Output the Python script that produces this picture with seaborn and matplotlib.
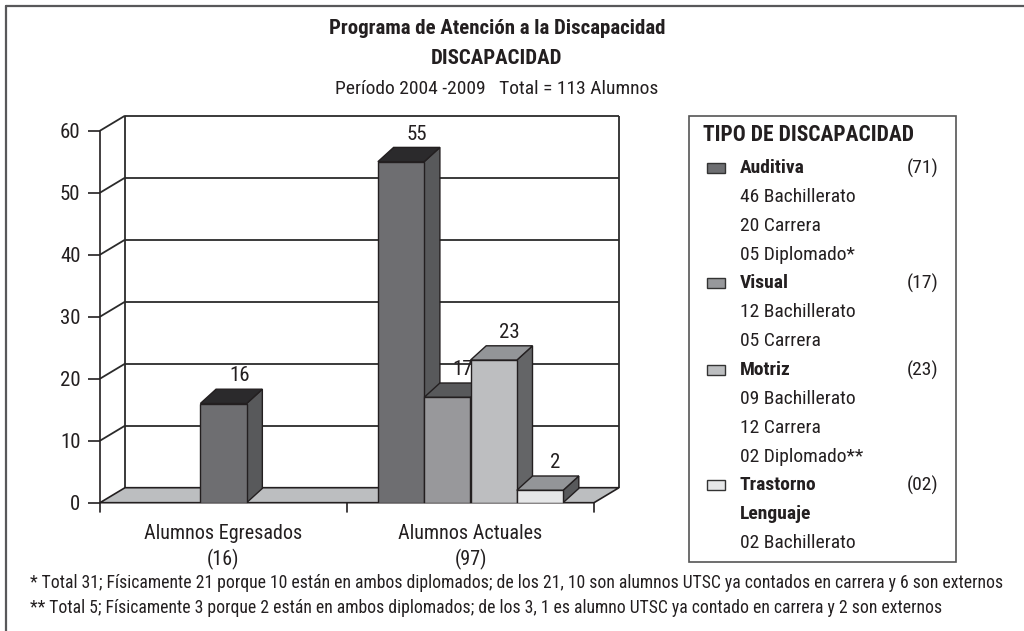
import numpy as np
import pandas as pd
import seaborn as sns
import matplotlib.pyplot as plt
from matplotlib.patches import Polygon, Rectangle
from matplotlib.lines import Line2D
from matplotlib import font_manager

# datos
grupos = ['Alumnos Egresados', 'Alumnos Actuales']
grupo_totales = ['(16)', '(97)']
tipos = ['Auditiva', 'Visual', 'Motriz', 'Trastorno Lenguaje']
egresados = [16, 0, 0, 0]
actuales = [55, 17, 23, 2]
tipo_totales = ['(71)', '(17)', '(23)', '(02)']
tipo_detalle = [['46 Bachillerato', '20 Carrera', '05 Diplomado*'],
                ['12 Bachillerato', '05 Carrera'],
                ['09 Bachillerato', '12 Carrera', '02 Diplomado**'],
                ['02 Bachillerato']]
y_ticks = [0, 10, 20, 30, 40, 50, 60]

titulo = 'Programa de Atención a la Discapacidad'
subtitulo = 'DISCAPACIDAD'
periodo = 'Período 2004 -2009   Total = 113 Alumnos'
notas = ['* Total 31; Físicamente 21 porque 10 están en ambos diplomados; de los 21, 10 son alumnos UTSC ya contados en carrera y 6 son externos',
         '** Total 5; Físicamente 3 porque 2 están en ambos diplomados; de los 3, 1 es alumno UTSC ya contado en carrera y 2 son externos']

# colores (frente, tapa, lado)
frente = ['#6d6e71', '#97989b', '#bcbec0', '#e6e7e8']
tapa = ['#2b2a2c', '#58595b', '#939598', '#939598']
lado = ['#58595b', '#58595b', '#646567', '#58595b']
linea = '#231f20'

sns.set_theme(style='white')
disponibles = {f.name for f in font_manager.fontManager.ttflist}
fuente = next((f for f in ['Liberation Sans Narrow', 'Roboto Condensed', 'Open Sans Condensed']
               if f in disponibles), 'Liberation Sans')
plt.rcParams['font.family'] = [fuente, 'DejaVu Sans']
plt.rcParams['text.color'] = linea

W, H = 1024, 631
fig = plt.figure(figsize=(W / 100, H / 100), dpi=100)
fig.patch.set_facecolor('white')

def fx(x):
    return x / W

def fy(y):
    return 1 - y / H

# escala: 247 px por categoria, 6.2 px por unidad
px_x, px_y = 247, 6.2
x_min, x_max, y_max = -0.5, 1.62, 62.5
ax = fig.add_axes([fx(100), 1 - 502.7 / H, (x_max - x_min) * px_x / W, y_max * px_y / H])
ax.set_facecolor('none')

# profundidad del piso/pared y de las barras
fdx, fdy = 25 / px_x, 15 / px_y
bdx, bdy = 15.7 / px_x, 14.3 / px_y
w = 46.3 / px_x

# tabla de barras
filas = []
for gi, valores in enumerate([egresados, actuales]):
    activos = [(ti, v) for ti, v in enumerate(valores) if v > 0]
    n = len(activos)
    for k, (ti, v) in enumerate(activos):
        filas.append({'grupo': grupos[gi], 'tipo': tipos[ti], 'ti': ti,
                      'pos': gi + (k - (n - 1) / 2) * w, 'valor': v})
df = pd.DataFrame(filas)

sns.barplot(data=df, x='pos', y='valor', hue='tipo', hue_order=tipos,
            palette=dict(zip(tipos, frente)), native_scale=True, dodge=False,
            width=1, errorbar=None, edgecolor=linea, linewidth=1, legend=False, ax=ax)

ax.set_xlim(x_min, x_max)
ax.set_ylim(0, y_max)
for s in ax.spines.values():
    s.set_visible(False)

# pared del fondo
wx0, wx1 = -0.5 + fdx, 1.5 + fdx
kw = dict(color='#2b2b2b', lw=1.3, zorder=1, clip_on=False, solid_capstyle='butt')
ax.plot([wx0, wx0], [fdy, 60 + fdy], **kw)
ax.plot([wx1, wx1], [fdy, 60 + fdy], **kw)
for v in y_ticks[1:]:
    ax.plot([wx0, wx1], [v + fdy, v + fdy], **kw)
    ax.plot([-0.5, wx0], [v, v + fdy], **kw)

# piso
ax.add_patch(Polygon([(-0.5, 0), (1.5, 0), (1.5 + fdx, fdy), (-0.5 + fdx, fdy)],
                     closed=True, fc='#bcbec0', ec=linea, lw=1.2, zorder=2, clip_on=False))

# eje frontal y marcas de categoria
ax.plot([-0.5, -0.5], [-1.5, 60], color=linea, lw=1.2, zorder=3, clip_on=False)
for xc in [0.5, 1.5]:
    ax.plot([xc, xc], [0, -1.5], color=linea, lw=1.2, zorder=3, clip_on=False)

# barras 3D
barras = sorted([p for p in ax.patches if isinstance(p, Rectangle) and p.get_height() > 0],
                key=lambda p: p.get_x())
orden = df.sort_values('pos').reset_index(drop=True)
for k, (p, fila) in enumerate(zip(barras, orden.itertuples())):
    x0 = p.get_x()
    x1 = x0 + p.get_width()
    h = p.get_height()
    p.set_zorder(5 + 2 * k)
    ti = fila.ti
    ax.add_patch(Polygon([(x1, 0), (x1 + bdx, bdy), (x1 + bdx, h + bdy), (x1, h)], closed=True,
                         fc=lado[ti], ec=linea, lw=1, zorder=4 + 2 * k, clip_on=False))
    ax.add_patch(Polygon([(x0, h), (x1, h), (x1 + bdx, h + bdy), (x0 + bdx, h + bdy)], closed=True,
                         fc=tapa[ti], ec=linea, lw=1, zorder=4 + 2 * k, clip_on=False))
    ax.text((x0 + x1) / 2 + bdx, h + bdy + 0.6, str(fila.valor), ha='center', va='bottom',
            fontsize=15, zorder=30)

# ejes
ax.set_yticks(y_ticks)
ax.set_yticklabels([str(v) for v in y_ticks])
ax.tick_params(axis='y', left=True, length=8.6, width=1.2, color=linea, pad=5.5,
               labelsize=15, labelcolor=linea)
ax.set_xticks([0, 1])
ax.set_xticklabels([f'{g}\n{t}' for g, t in zip(grupos, grupo_totales)], linespacing=1.4)
ax.tick_params(axis='x', bottom=False, length=0, pad=15, labelsize=14.5, labelcolor=linea)
ax.set_xlabel('')
ax.set_ylabel('')

# titulos
fig.text(fx(497), fy(29), titulo, ha='center', va='center', fontsize=15, fontweight='bold')
fig.text(fx(497), fy(58), subtitulo, ha='center', va='center', fontsize=15, fontweight='bold')
fig.text(fx(497), fy(89), periodo, ha='center', va='center', fontsize=14)

# leyenda
fig.add_artist(Rectangle((fx(689), fy(562)), fx(956 - 689), (562 - 116) / H,
                         fc='white', ec='#555555', lw=1.2, transform=fig.transFigure))
fig.text(fx(703), fy(135), 'TIPO DE DISCAPACIDAD', ha='left', va='center',
         fontsize=15.5, fontweight='bold')
filas_ley = []
for ti, nombre in enumerate(tipos):
    partes = nombre.split(' ')
    filas_ley.append((ti, partes[0], tipo_totales[ti], True))
    for extra in partes[1:]:
        filas_ley.append((None, extra, '', True))
    for d in tipo_detalle[ti]:
        filas_ley.append((None, d, '', False))
for i, (ti, txt, tot, negrita) in enumerate(filas_ley):
    yy = 168 + 28.85 * i
    if ti is not None:
        fig.add_artist(Rectangle((fx(707), fy(yy + 5)), fx(18), 10 / H, fc=frente[ti],
                                 ec='#333333', lw=1, transform=fig.transFigure))
    fig.text(fx(740), fy(yy), txt, ha='left', va='center', fontsize=14,
             fontweight='bold' if negrita else 'normal')
    if tot:
        fig.text(fx(907), fy(yy), tot, ha='left', va='center', fontsize=14)

# notas
fig.text(fx(30), fy(583), notas[0], ha='left', va='center', fontsize=12.7)
fig.text(fx(30), fy(608), notas[1], ha='left', va='center', fontsize=12.7)

# marco exterior
fig.add_artist(Line2D([fx(6), fx(6)], [fy(6), 0], color='#58585a', lw=1.6, transform=fig.transFigure))
fig.add_artist(Line2D([fx(6), 1], [fy(6), fy(6)], color='#58585a', lw=1.6, transform=fig.transFigure))

fig.savefig('out.png', dpi=100)
